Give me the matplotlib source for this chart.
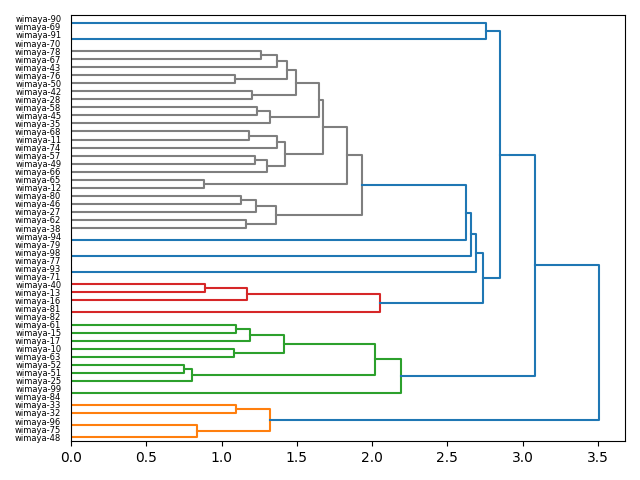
import matplotlib
matplotlib.use("Agg")
import matplotlib.pyplot as plt
import numpy as np

# leaf labels, bottom to top
labels = ["wimaya-48", "wimaya-75", "wimaya-96", "wimaya-32", "wimaya-33",
          "wimaya-84", "wimaya-99", "wimaya-25", "wimaya-51", "wimaya-52",
          "wimaya-63", "wimaya-10", "wimaya-17", "wimaya-15", "wimaya-61",
          "wimaya-82", "wimaya-81", "wimaya-16", "wimaya-13", "wimaya-40",
          "wimaya-71", "wimaya-93", "wimaya-77", "wimaya-98", "wimaya-79",
          "wimaya-94", "wimaya-38", "wimaya-62", "wimaya-27", "wimaya-46",
          "wimaya-80", "wimaya-12", "wimaya-65", "wimaya-66", "wimaya-49",
          "wimaya-57", "wimaya-74", "wimaya-11", "wimaya-68", "wimaya-35",
          "wimaya-45", "wimaya-58", "wimaya-28", "wimaya-42", "wimaya-50",
          "wimaya-76", "wimaya-43", "wimaya-67", "wimaya-78", "wimaya-70",
          "wimaya-91", "wimaya-69", "wimaya-90"]

# linkage: ids < n are leaves, id n+k is merge k  (lower child first)
merge_a = [1, 5, 15, 20, 22, 24, 49, 51,
           0, 3, 61,
           8, 7, 10, 13, 12, 66, 65, 54,
           18, 17, 55,
           26, 29, 28, 75, 31, 34, 33, 37, 36, 81, 40, 39, 42, 44, 47, 46,
           88, 87, 86, 84, 79, 78,
           58, 57, 56, 74, 59, 100, 71, 63]
merge_b = [2, 6, 16, 21, 23, 25, 50, 52,
           53, 4, 62,
           9, 64, 11, 14, 67, 68, 69, 70,
           19, 72, 73,
           27, 30, 76, 77, 32, 35, 80, 38, 82, 83, 41, 85, 43, 45, 48, 89,
           90, 91, 92, 93, 94, 95,
           96, 97, 98, 99, 60, 101, 102, 103]
heights = [0.0, 0.0, 0.0, 0.0, 0.0, 0.0, 0.0, 0.0,
           0.837, 1.096, 1.32,
           0.75, 0.804, 1.083, 1.096, 1.189, 1.415, 2.019, 2.19,
           0.89, 1.169, 2.052,
           1.16, 1.13, 1.23, 1.36, 0.886, 1.22, 1.30, 1.18, 1.37, 1.42,
           1.235, 1.32, 1.20, 1.09, 1.262, 1.37, 1.437, 1.494, 1.645,
           1.676, 1.833, 1.93,
           2.623, 2.657, 2.69, 2.736, 2.756, 2.85, 3.08, 3.507]

n = len(labels)
threshold = 0.7 * max(heights)
palette = ["C1", "C2", "C3", "C4", "C5", "C6", "C7", "C8", "C9"]

fig, ax = plt.subplots(figsize=(6.4, 4.8), dpi=100)

pos = {}
for i in range(n):
    pos[i] = (5 + 10 * i, 0.0)

node_color = {}
color_idx = [0]

def paint(node, col):
    if node < n:
        return
    k = node - n
    node_color[node] = col
    paint(merge_a[k], col)
    paint(merge_b[k], col)

def assign(node):
    if node < n:
        return
    k = node - n
    if heights[k] < threshold:
        paint(node, palette[color_idx[0] % len(palette)])
        color_idx[0] += 1
    else:
        node_color[node] = "C0"
        assign(merge_a[k])
        assign(merge_b[k])

assign(n + len(heights) - 1)

for k in range(len(heights)):
    a, b, h = merge_a[k], merge_b[k], heights[k]
    ya, ha = pos[a]
    yb, hb = pos[b]
    ax.plot([ha, h, h, hb], [ya, ya, yb, yb], color=node_color[n + k], lw=1.5)
    pos[n + k] = ((ya + yb) / 2, h)

ax.set_ylim(0, 10 * n)
ax.set_xlim(0, 1.05 * max(heights))
ax.set_yticks([5 + 10 * i for i in range(n)])
ax.set_yticklabels(labels, fontsize=6)
for line in ax.get_yticklines():
    line.set_visible(False)

plt.subplots_adjust(left=0.111, right=0.977, top=0.969, bottom=0.081)
plt.savefig("out.png")
